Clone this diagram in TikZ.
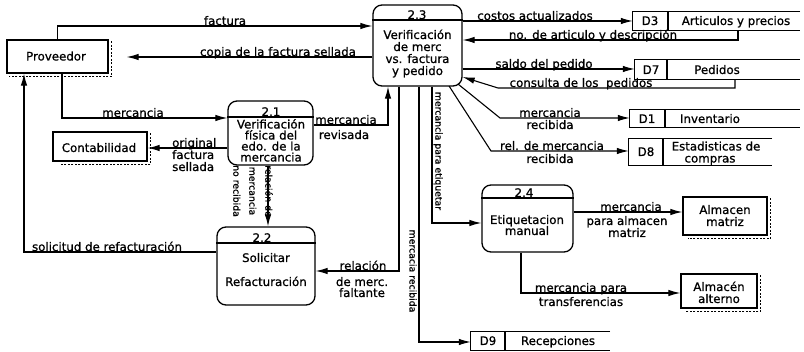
\documentclass[tikz,border=0pt]{standalone}
\usepackage{fontspec}
\setmainfont{DejaVu Sans}[FakeBold=0.8]
\usetikzlibrary{arrows.meta,calc}

\begin{document}
\begin{tikzpicture}[x=1pt,y=-1pt,
  every node/.style={font=\fontsize{11.8}{12}\selectfont, inner sep=0pt},
  entity/.style={draw, line width=1.3pt},
  proc/.style={draw, line width=1.3pt, rounded corners=9pt},
  store/.style={draw=none},
  flow/.style={line width=1.1pt, -{Latex[length=12pt,width=6.5pt]}},
  edge/.style={line width=1.2pt},
  dup/.style={line width=1.3pt, dash pattern=on 2pt off 1.5pt},
  lab/.style={anchor=base},
  vlab/.style={rotate=-90, font=\fontsize{9.3}{16}\selectfont, align=center},
]
\fill[white] (0,0) rectangle (804,352);
\useasboundingbox (0,0) rectangle (804,352);

% ---------- external entities ----------
\node[entity, minimum width=101, minimum height=33] (prov) at (57.5,56.5) {};
\node[lab] (provt) at (56,60.5) {Proveedor};
\draw[dup] ([shift={(3,2)}]prov.north east) -- ([shift={(3,3)}]prov.south east) -- ([shift={(3,3)}]prov.south west);

\node[entity, minimum width=94, minimum height=29] (cont) at (100,146.5) {};
\node[lab] (contt) at (99,152) {Contabilidad};
\draw[dup] ([shift={(3,2)}]cont.north east) -- ([shift={(3,3)}]cont.south east) -- ([shift={(8,3)}]cont.south west);

\node[entity, minimum width=84, minimum height=38] (matriz) at (725,216) {};
\node[lab] (matrizt1) at (725,214) {Almacen};
\node[lab] (matrizt2) at (725,226) {matriz};
\draw[dup] ([shift={(3,2)}]matriz.north east) -- ([shift={(3,3)}]matriz.south east) -- ([shift={(6,3)}]matriz.south west);

\node[entity, minimum width=76, minimum height=34] (alterno) at (719,291) {};
\node[lab] (altt1) at (719,291) {Almacén};
\node[lab] (altt2) at (719,303) {alterno};
\draw[dup] ([shift={(3,2)}]alterno.north east) -- ([shift={(3,3)}]alterno.south east) -- ([shift={(6,3)}]alterno.south west);

% ---------- processes ----------
\node[proc, minimum width=85, minimum height=64] (p21) at (270.5,133) {};
\draw[edge] (p21.west |- 0,117) -- (p21.east |- 0,117);
\node[lab] (p21n) at (271,116) {2.1};
\node[lab] (p21a) at (271,128.5) {Verificación};
\node[lab] (p21b) at (271,139.5) {física del};
\node[lab] (p21c) at (271,150.5) {edo. de la};
\node[lab] (p21d) at (271,161.5) {mercancia};

\node[proc, minimum width=98, minimum height=78] (p22) at (266,266) {};
\draw[edge] (p22.west |- 0,243) -- (p22.east |- 0,243);
\node[lab] (p22n) at (262,242) {2.2};
\node[lab] (p22a) at (266,262) {Solicitar};
\node[lab] (p22b) at (266,286) {Refacturación};

\node[proc, minimum width=89, minimum height=81] (p23) at (417.5,45.5) {};
\draw[edge] (p23.west |- 0,20) -- (p23.east |- 0,20);
\node[lab] (p23n) at (417,19) {2.3};
\node[lab] (p23a) at (417.5,39) {Verificación};
\node[lab] (p23b) at (417.5,51) {de merc};
\node[lab] (p23c) at (417.5,63) {vs. factura};
\node[lab] (p23d) at (417.5,75) {y pedido};

\node[proc, minimum width=91, minimum height=67] (p24) at (527.5,218.5) {};
\draw[edge] (p24.west |- 0,198) -- (p24.east |- 0,198);
\node[lab] (p24n) at (524,197) {2.4};
\node[lab] (p24a) at (527,224) {Etiquetacion};
\node[lab] (p24b) at (527,235) {manual};

% ---------- data stores ----------
\node[store, minimum width=167, minimum height=18] (d3) at (716.5,21) {};
\draw[edge] (d3.north east) -- (d3.north west) -- (d3.south west) -- (d3.south east);
\draw[edge] (d3.north west -| 668,0) -- (d3.south west -| 668,0);
\node[lab] (d3a) at (650,25) {D3};
\node[lab] (d3b) at (736,25) {Articulos y precios};

\node[store, minimum width=165, minimum height=19] (d7) at (717.5,69.5) {};
\draw[edge] (d7.north east) -- (d7.north west) -- (d7.south west) -- (d7.south east);
\draw[edge] (d7.north west -| 667,0) -- (d7.south west -| 667,0);
\node[lab] (d7a) at (651,74) {D7};
\node[lab] (d7b) at (717,74) {Pedidos};

\node[store, minimum width=170, minimum height=17] (d1) at (715,118.5) {};
\draw[edge] (d1.north east) -- (d1.north west) -- (d1.south west) -- (d1.south east);
\draw[edge] (d1.north west -| 665,0) -- (d1.south west -| 665,0);
\node[lab] (d1a) at (647,123) {D1};
\node[lab] (d1b) at (710,123) {Inventario};

\node[store, minimum width=143, minimum height=27] (d8) at (700.5,152) {};
\draw[edge] (d8.north east) -- (d8.north west) -- (d8.south west) -- (d8.south east);
\draw[edge] (d8.north west -| 663,0) -- (d8.south west -| 663,0);
\node[lab] (d8a) at (646,156) {D8};
\node[lab] (d8b) at (716,150.5) {Estadisticas de};
\node[lab] (d8c) at (710,162.5) {compras};

\node[store, minimum width=139, minimum height=18] (d9) at (540.5,341) {};
\draw[edge] (d9.north east) -- (d9.north west) -- (d9.south west) -- (d9.south east);
\draw[edge] (d9.north west -| 505,0) -- (d9.south west -| 505,0);
\node[lab] (d9a) at (488,345) {D9};
\node[lab] (d9b) at (558,345) {Recepciones};

% ---------- flows ----------
\coordinate (k1) at (498,88);
\coordinate (k2) at (500,118);
\coordinate (k3) at (491,151);

\draw[flow] (prov.north) |- (p23.west |- 0,26);
\node[lab] (lfact) at (225,25) {factura};

\draw[flow, shorten >=18pt] (p23.west |- 0,57) -- (prov.east |- 0,57);
\node[lab] (lcopia) at (278,56) {copia de la factura sellada};

\draw[flow] (prov.south -| 62,0) |- (p21.west |- 0,118);
\node[lab] (lmerc) at (133,117) {mercancia};

\draw[flow] (p22.west |- 0,252) -| (prov.south -| 24,0);
\node[lab] (lsol) at (107,251) {solicitud de refacturación};

\draw[flow] (p21.west |- 0,148) -- (cont.east |- 0,148);
\node[lab, anchor=base west] (lorig1) at (172,147) {original};
\node[lab, anchor=base west] (lorig2) at (172,159) {factura};
\node[lab, anchor=base west] (lorig3) at (172,171) {sellada};

\draw[flow] (p21.south -| 268,0) -- (p22.north -| 268,0);
\node[vlab] (lnorec) at (253,191) {relación de\\mercancia\\no recibida};

\draw[flow] (p21.east |- 0,125) -| (p23.south -| 388,0);
\node[lab] (lrev1) at (346,124) {mercancia};
\node[lab] (lrev2) at (344,139) {revisada};

\draw[flow] (p23.south -| 399,0) |- (p22.east |- 0,271);
\node[lab] (lfal1) at (363,270) {relación};
\node[lab] (lfal2) at (362,286) {de merc.};
\node[lab] (lfal3) at (362,297) {faltante};

\draw[flow] (p23.south -| 419,0) |- (d9.west |- 0,342);
\node[vlab] (lrecib) at (413,271) {mercacia recibida};

\draw[flow] (p23.south -| 432,0) |- (p24.west |- 0,223);
\node[vlab] (letiq) at (438,151) {mercancia para etiquetar};

\draw[flow] (p23.east |- 0,21) -- (d3.west |- 0,21);
\node[lab] (lcost) at (535,20) {costos actualizados};

\draw[flow] (d3.south -| 738,0) |- (p23.east |- 0,40);
\node[lab] (lart) at (593,39) {no. de articulo y descripción};

\draw[flow] (p23.east |- 0,69) -- (d7.west |- 0,69);
\node[lab] (lsaldo) at (544,68) {saldo del pedido};

\draw[flow] (d7.south -| 735,0) |- (k1) -- (p23.east |- 0,77);
\node[lab] (lcons) at (581,87) {consulta de los\ \ pedidos};

\draw[flow] ($(p23.south east)+(-4.5,-2.5)$) -- (k2) -- (d1.west |- k2);
\node[lab] (linv1) at (550,117) {mercancia};
\node[lab] (linv2) at (550,129) {recibida};

\draw[flow] ($(p23.south east)+(-13.5,-0.5)$) -- (k3) -- (d8.west |- k3);
\node[lab] (lest1) at (552,150) {rel. de mercancia};
\node[lab] (lest2) at (550,163) {recibida};

\draw[flow] (p24.east |- 0,212) -- (matriz.west |- 0,212);
\node[lab] (lmat1) at (631,211) {mercancia};
\node[lab] (lmat2) at (627,225) {para almacen};
\node[lab] (lmat3) at (627,237) {matriz};

\draw[flow] (p24.south -| 521,0) |- (alterno.west |- 0,293);
\node[lab] (ltra1) at (581,292) {mercancia para};
\node[lab] (ltra2) at (581,306) {transferencias};

\end{tikzpicture}
\end{document}
